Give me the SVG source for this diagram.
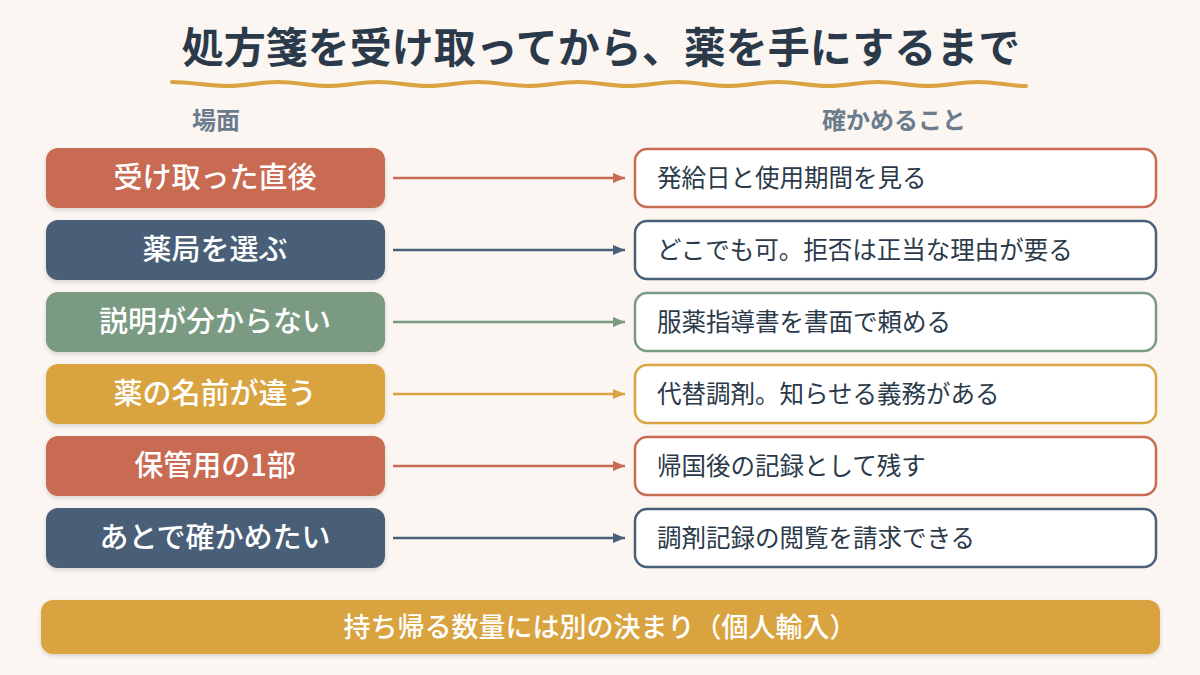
<svg xmlns="http://www.w3.org/2000/svg" width="1200" height="675" viewBox="0 0 1200 675">
  <defs>
    <filter id="sh" x="-5%" y="-20%" width="110%" height="150%">
      <feDropShadow dx="0" dy="2" stdDeviation="2" flood-color="#000" flood-opacity="0.15"/>
    </filter>
    <marker id="a1" viewBox="0 0 12 10" refX="12" refY="5" markerWidth="12" markerHeight="10" markerUnits="userSpaceOnUse" orient="auto"><path d="M0,0 L12,5 L0,10 z" fill="#C96B52"/></marker>
    <marker id="a2" viewBox="0 0 12 10" refX="12" refY="5" markerWidth="12" markerHeight="10" markerUnits="userSpaceOnUse" orient="auto"><path d="M0,0 L12,5 L0,10 z" fill="#4A5F78"/></marker>
    <marker id="a3" viewBox="0 0 12 10" refX="12" refY="5" markerWidth="12" markerHeight="10" markerUnits="userSpaceOnUse" orient="auto"><path d="M0,0 L12,5 L0,10 z" fill="#7A9A82"/></marker>
    <marker id="a4" viewBox="0 0 12 10" refX="12" refY="5" markerWidth="12" markerHeight="10" markerUnits="userSpaceOnUse" orient="auto"><path d="M0,0 L12,5 L0,10 z" fill="#D9A441"/></marker>
  </defs>
  <style>
    text { font-family: "Noto Sans CJK JP", "Noto Sans", sans-serif; }
    .title { font-size: 42px; font-weight: 700; fill: #2B3A4A; text-anchor: middle; }
    .hdr { font-size: 24px; font-weight: 700; fill: #6B7C8D; text-anchor: middle; }
    .lt { font-size: 29px; font-weight: 500; fill: #FFFFFF; text-anchor: middle; }
    .rt { font-size: 24.5px; font-weight: 400; fill: #2B3A4A; }
    .bt { font-size: 27px; font-weight: 500; fill: #FFFFFF; text-anchor: middle; }
    .rbox { fill: #FFFFFF; stroke-width: 2.5; }
    .conn { stroke-width: 2.5; fill: none; }
    .c1 { fill: #C96B52; } .s1 { stroke: #C96B52; }
    .c2 { fill: #4A5F78; } .s2 { stroke: #4A5F78; }
    .c3 { fill: #7A9A82; } .s3 { stroke: #7A9A82; }
    .c4 { fill: #D9A441; } .s4 { stroke: #D9A441; }
  </style>
  <rect x="0" y="0" width="1200" height="675" fill="#FBF6F1"/>
  <text class="title" x="601" y="63">処方箋を受け取ってから、薬を手にするまで</text>
  <path d="M172 82 C190 82 210 86 228 86 S260 82 278 82 S310 86 328 86 S360 82 378 82 S410 86 428 86 S460 82 478 82 S510 86 528 86 S560 82 578 82 S610 86 628 86 S660 82 678 82 S710 86 728 86 S760 82 778 82 S810 86 828 86 S860 82 878 82 S910 86 928 86 S960 82 978 82 S1010 86 1026 86" fill="none" stroke="#D9A441" stroke-width="4" stroke-linecap="round"/>
  <text class="hdr" x="216" y="129">場面</text>
  <text class="hdr" x="894" y="129">確かめること</text>

  <g id="connectors">
    <line class="conn s1" x1="393" y1="178" x2="625" y2="178" marker-end="url(#a1)"/>
    <line class="conn s2" x1="393" y1="250" x2="625" y2="250" marker-end="url(#a2)"/>
    <line class="conn s3" x1="393" y1="322" x2="625" y2="322" marker-end="url(#a3)"/>
    <line class="conn s4" x1="393" y1="394" x2="625" y2="394" marker-end="url(#a4)"/>
    <line class="conn s1" x1="393" y1="466" x2="625" y2="466" marker-end="url(#a1)"/>
    <line class="conn s2" x1="393" y1="538" x2="625" y2="538" marker-end="url(#a2)"/>
  </g>

  <g id="scene1"><rect class="c1" x="46" y="148" width="339" height="60" rx="12" filter="url(#sh)"/><text class="lt" x="215" y="188">受け取った直後</text></g>
  <g id="scene2"><rect class="c2" x="46" y="220" width="339" height="60" rx="12" filter="url(#sh)"/><text class="lt" x="215" y="260">薬局を選ぶ</text></g>
  <g id="scene3"><rect class="c3" x="46" y="292" width="339" height="60" rx="12" filter="url(#sh)"/><text class="lt" x="215" y="332">説明が分からない</text></g>
  <g id="scene4"><rect class="c4" x="46" y="364" width="339" height="60" rx="12" filter="url(#sh)"/><text class="lt" x="215" y="404">薬の名前が違う</text></g>
  <g id="scene5"><rect class="c1" x="46" y="436" width="339" height="60" rx="12" filter="url(#sh)"/><text class="lt" x="215" y="476">保管用の1部</text></g>
  <g id="scene6"><rect class="c2" x="46" y="508" width="339" height="60" rx="12" filter="url(#sh)"/><text class="lt" x="215" y="548">あとで確かめたい</text></g>

  <g id="check1"><rect class="rbox s1" x="635" y="149" width="521" height="58" rx="12"/><text class="rt" x="657" y="187">発給日と使用期間を見る</text></g>
  <g id="check2"><rect class="rbox s2" x="635" y="221" width="521" height="58" rx="12"/><text class="rt" x="657" y="259">どこでも可。拒否は正当な理由が要る</text></g>
  <g id="check3"><rect class="rbox s3" x="635" y="293" width="521" height="58" rx="12"/><text class="rt" x="657" y="331">服薬指導書を書面で頼める</text></g>
  <g id="check4"><rect class="rbox s4" x="635" y="365" width="521" height="58" rx="12"/><text class="rt" x="657" y="403">代替調剤。知らせる義務がある</text></g>
  <g id="check5"><rect class="rbox s1" x="635" y="437" width="521" height="58" rx="12"/><text class="rt" x="657" y="475">帰国後の記録として残す</text></g>
  <g id="check6"><rect class="rbox s2" x="635" y="509" width="521" height="58" rx="12"/><text class="rt" x="657" y="547">調剤記録の閲覧を請求できる</text></g>

  <g id="footer"><rect class="c4" x="41" y="600" width="1119" height="54" rx="12" filter="url(#sh)"/><text class="bt" x="600" y="637">持ち帰る数量には別の決まり（個人輸入）</text></g>
</svg>
